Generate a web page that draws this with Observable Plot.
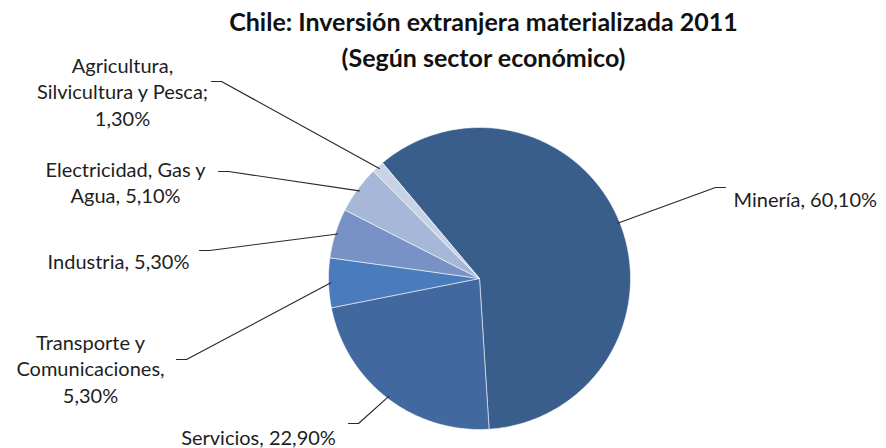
<!DOCTYPE html>
<html><head><meta charset="utf-8">
<script src="https://cdn.jsdelivr.net/npm/d3@7"></script>
<script src="https://cdn.jsdelivr.net/npm/@observablehq/plot@0.6"></script>
<style>body{margin:0;background:#fff}</style>
</head><body><div id="chart"></div>
<script>
// ---- data ----
const sectors = ["Minería", "Servicios", "Transporte y Comunicaciones", "Industria", "Electricidad, Gas y Agua", "Agricultura, Silvicultura y Pesca"];
const shares = [60.1, 22.9, 5.3, 5.3, 5.1, 1.3];
const labelLines = [
  ["Minería, 60,10%"],
  ["Servicios, 22,90%"],
  ["Transporte y", "Comunicaciones,", "5,30%"],
  ["Industria, 5,30%"],
  ["Electricidad, Gas y", "Agua, 5,10%"],
  ["Agricultura,", "Silvicultura y Pesca;", "1,30%"]
];
const colors = ["#3a5e8c", "#41699f", "#4a7bbc", "#7892c6", "#a6b7d8", "#c9d3e8"];
const titleLines = ["Chile: Inversión extranjera materializada 2011", "(Según sector económico)"];

// ---- layout ----
const W = 886, H = 448;
const cx = 479, cy = 278, R = 151;
const startDeg = -40;
const labelLayout = [
  {x: 733, y: 200, anchor: "start", stub: [725, 187], dir: 1},
  {x: 258, y: 438, anchor: "middle", stub: [348, 423], dir: -1},
  {x: 90, y: 343, anchor: "middle", stub: [176, 359], dir: -1},
  {x: 118, y: 262, anchor: "middle", stub: [199, 250], dir: -1},
  {x: 125, y: 170, anchor: "middle", stub: [218, 171], dir: -1},
  {x: 122, y: 66, anchor: "middle", stub: [211, 81], dir: -1}
];

const pie = d3.pie().sort(null).value(d => d.v)
  .startAngle(startDeg * Math.PI / 180).endAngle((startDeg + 360) * Math.PI / 180);
const arcs = pie(sectors.map((s, i) => ({s, v: shares[i], i})));

const polys = arcs.map(a => {
  const pts = [{x: cx, y: cy}];
  const n = Math.max(4, Math.ceil((a.endAngle - a.startAngle) * 180 / Math.PI));
  for (let k = 0; k <= n; k++) {
    const t = a.startAngle + (a.endAngle - a.startAngle) * k / n;
    pts.push({x: cx + R * Math.sin(t), y: cy - R * Math.cos(t)});
  }
  pts.push({x: cx, y: cy});
  return pts;
});

const leaders = arcs.map((a, i) => {
  const L = labelLayout[i];
  const m = (a.startAngle + a.endAngle) / 2;
  const rr = R * 0.985;
  const px = cx + rr * Math.sin(m), py = cy - rr * Math.cos(m);
  const bend = [L.stub[0] + (L.dir === 1 ? -10 : 10), L.stub[1]];
  return [
    {x: L.stub[0], y: L.stub[1], i},
    {x: bend[0], y: bend[1], i},
    {x: px, y: py, i}
  ];
});

const textRows = [];
labelLines.forEach((lines, i) => {
  lines.forEach((t, j) => textRows.push({t, x: labelLayout[i].x, y: labelLayout[i].y + j * 26.5, anchor: labelLayout[i].anchor}));
});

const marks = [];
polys.forEach((p, i) => marks.push(Plot.line(p, {x: "x", y: "y", fill: colors[i], stroke: "#ffffff", strokeOpacity: 0.55, strokeWidth: 1})));
leaders.forEach(l => marks.push(Plot.line(l, {x: "x", y: "y", stroke: "#2a2a2a", strokeWidth: 1.2})));
["start", "middle"].forEach(anc => {
  marks.push(Plot.text(textRows.filter(d => d.anchor === anc), {x: "x", y: "y", text: "t", textAnchor: anc, fill: "#1e1e1e", fontSize: 20, fontFamily: "Lato, 'Open Sans', sans-serif", lineAnchor: "middle"}));
});
marks.push(Plot.text(titleLines.map((t, j) => ({t, y: 22 + j * 36})), {x: () => 483, y: "y", text: "t", fontSize: 25, fontWeight: "bold", fill: "#111", fontFamily: "Lato, 'Open Sans', sans-serif", lineAnchor: "middle"}));

const chart = Plot.plot({
  width: W, height: H,
  margin: 0,
  x: {domain: [0, W], range: [0, W], axis: null},
  y: {domain: [0, H], range: [0, H], axis: null},
  style: {background: "#fff"},
  marks
});
document.getElementById("chart").appendChild(chart);
</script>
</body></html>
